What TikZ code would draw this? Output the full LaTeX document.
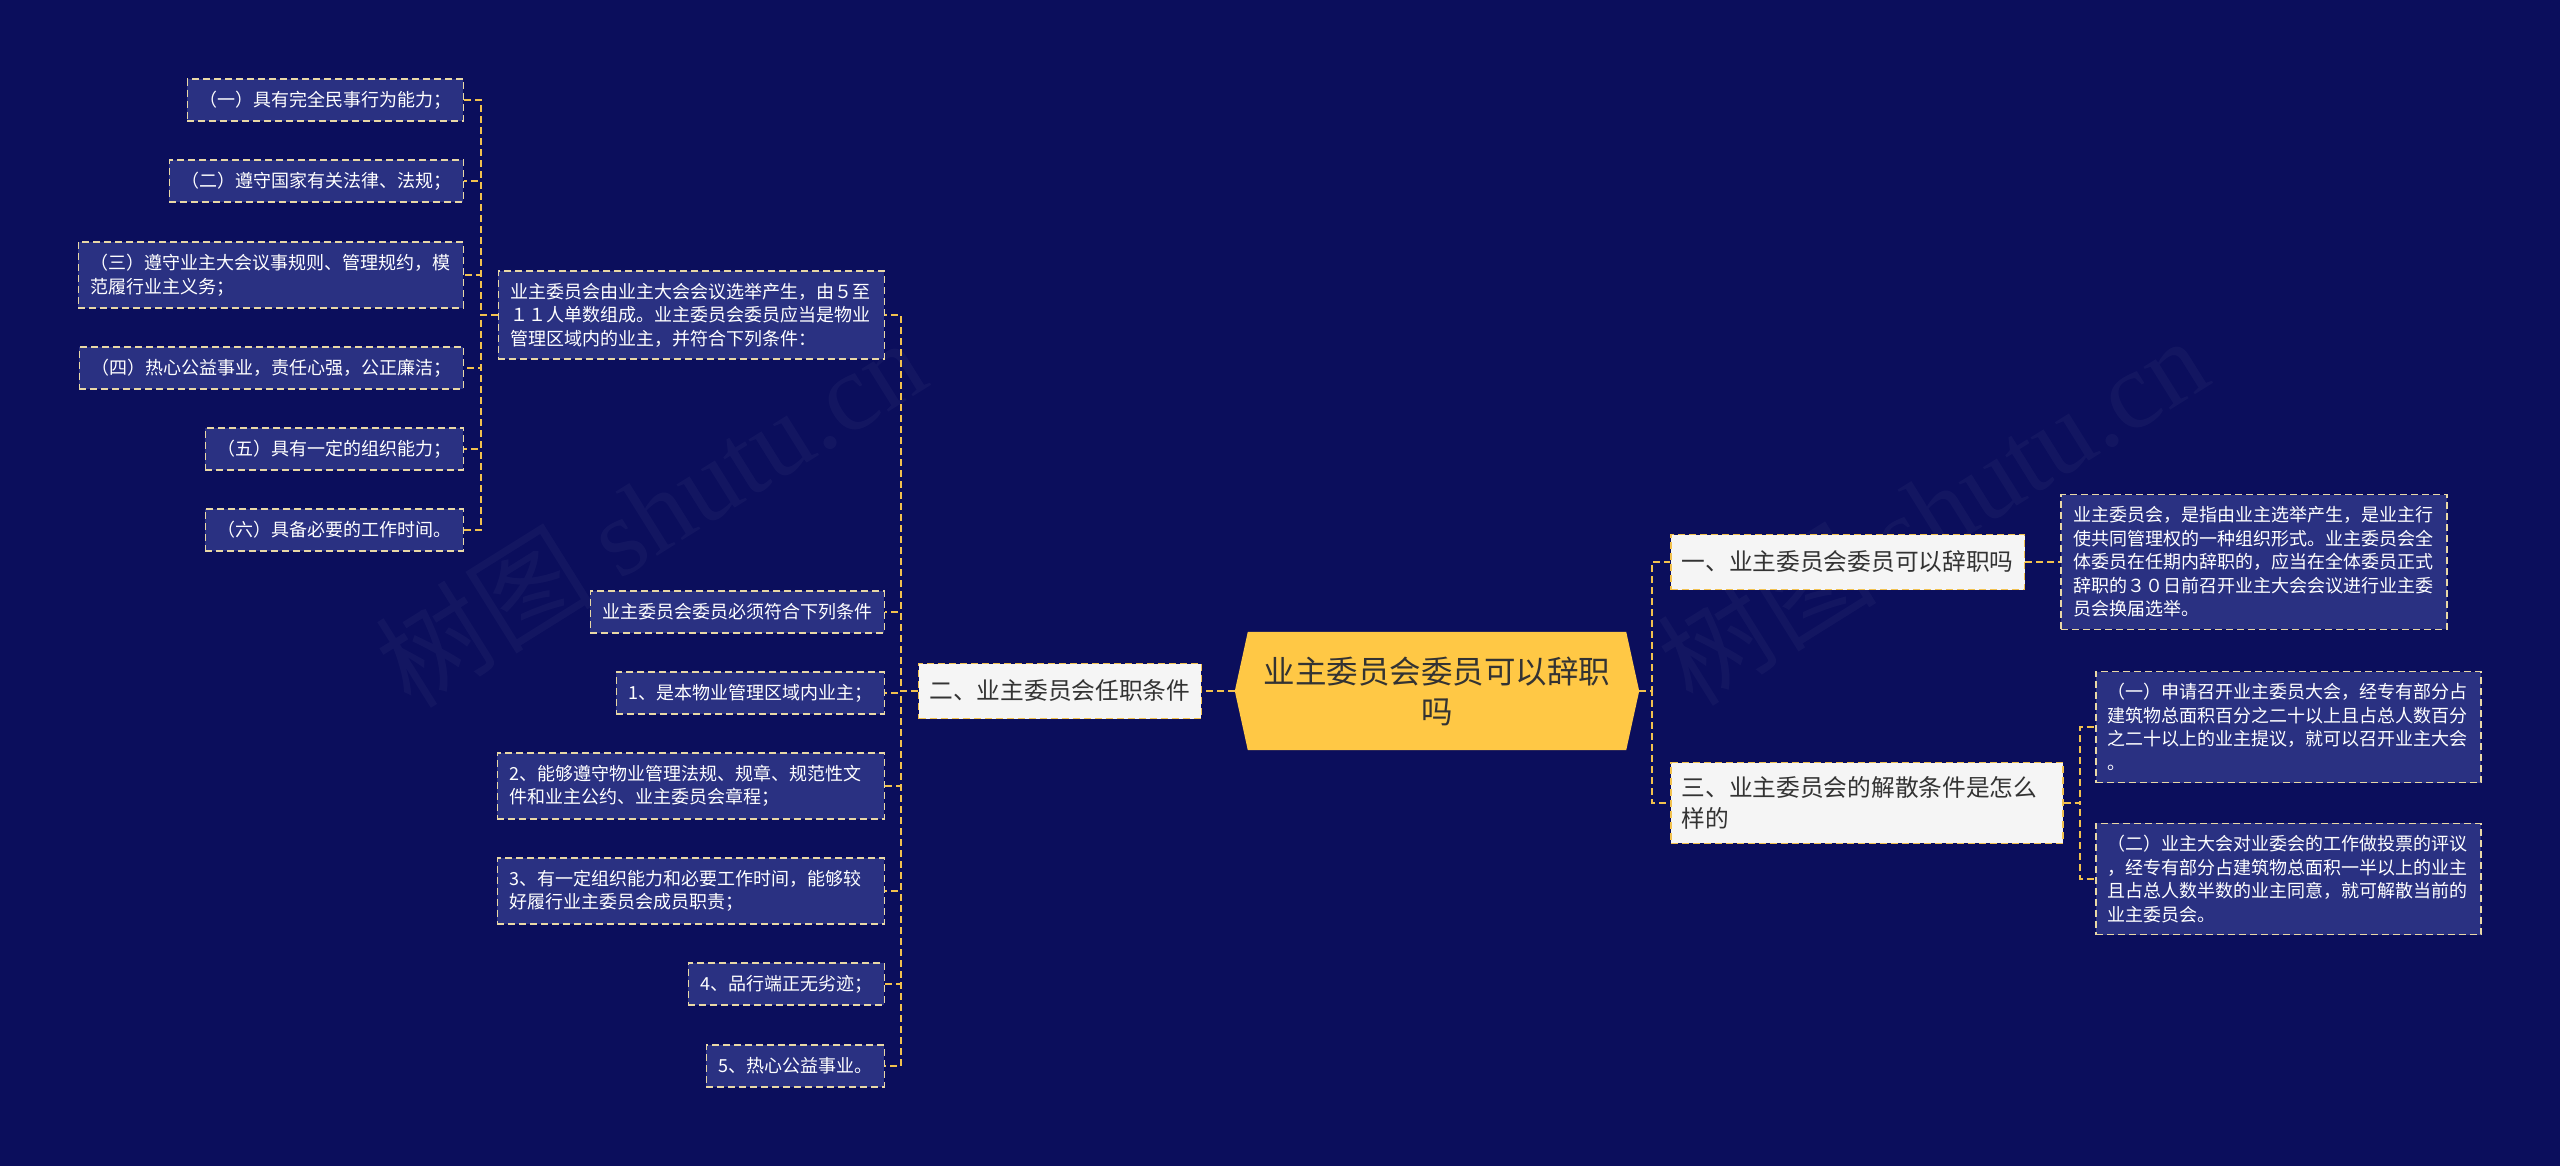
\documentclass[tikz,border=0pt]{standalone}
\usepackage{fontspec}
\setmainfont{Noto Sans CJK SC}
\newfontfamily\wmfont{Liberation Serif}
\usetikzlibrary{positioning, backgrounds}
\definecolor{bgcol}{HTML}{0B0E5C}
\definecolor{leafcol}{HTML}{2A3182}
\definecolor{leafline}{HTML}{E9D8A6}
\definecolor{rootcol}{HTML}{FFC845}
\definecolor{branchcol}{HTML}{F5F5F5}
\definecolor{linkcol}{HTML}{F2C14E}
\definecolor{textgray}{HTML}{333333}
\tikzset{
    rootnode/.style={minimum width=404pt, minimum height=118pt, inner sep=0pt, align=center, text=textgray, font=\fontsize{31.5}{40}\selectfont},
    branch/.style={rectangle, draw=linkcol, dash pattern=on 7pt off 4pt, line width=1.5pt, fill=branchcol, text=textgray, align=left, inner xsep=11pt, inner ysep=14pt, minimum height=55pt, font=\fontsize{23.7}{31}\selectfont},
    leaf/.style={rectangle, draw=leafline, dash pattern=on 7pt off 4pt, line width=1.5pt, fill=leafcol, text=white, align=left, inner xsep=12pt, inner ysep=12pt, minimum height=42pt, font=\fontsize{18}{23.5}\selectfont},
    link/.style={draw=linkcol, line width=2pt, dash pattern=on 7pt off 4pt},
    watermark/.style={text=white, opacity=0.035, rotate=32, font=\fontsize{110}{110}\selectfont}
}

\begin{document}
\begin{tikzpicture}[x=1pt, y=-1pt]
        \useasboundingbox (0,0) rectangle (2560,1166);

        % root
        \node (root) [rootnode] at (1437,691) {业主委员会委员可以辞职\\吗};

        % right side
        \node (b1) [branch, anchor=west] at (1670,562) {一、业主委员会委员可以辞职吗};
        \node (b1a) [leaf, right=35pt of b1, text width=362pt] {业主委员会，是指由业主选举产生，是业主行\\使共同管理权的一种组织形式。业主委员会全\\体委员在任期内辞职的，应当在全体委员正式\\辞职的３０日前召开业主大会会议进行业主委\\员会换届选举。};
        \node (b3) [branch, anchor=west, text width=370pt] at (1670,803) {三、业主委员会的解散条件是怎么\\样的};
        \node (b3a) [leaf, anchor=west, text width=361pt] at (2095,727) {（一）申请召开业主委员大会，经专有部分占\\建筑物总面积百分之二十以上且占总人数百分\\之二十以上的业主提议，就可以召开业主大会\\。};
        \node (b3b) [leaf, anchor=west, text width=361pt] at (2095,879) {（二）业主大会对业委会的工作做投票的评议\\，经专有部分占建筑物总面积一半以上的业主\\且占总人数半数的业主同意，就可解散当前的\\业主委员会。};

        % left side
        \node (b2) [branch, anchor=east] at (1202,691) {二、业主委员会任职条件};
        \node (c0) [leaf, anchor=east, text width=362pt] at (885,315) {业主委员会由业主大会会议选举产生，由５至\\１１人单数组成。业主委员会委员应当是物业\\管理区域内的业主，并符合下列条件：};
        \node (c1) [leaf, anchor=east] at (885,612) {业主委员会委员必须符合下列条件};
        \node (c2) [leaf, anchor=east] at (885,693) {1、是本物业管理区域内业主；};
        \node (c3) [leaf, anchor=east, text width=363pt] at (885,786) {2、能够遵守物业管理法规、规章、规范性文\\件和业主公约、业主委员会章程；};
        \node (c4) [leaf, anchor=east, text width=363pt] at (885,891) {3、有一定组织能力和必要工作时间，能够较\\好履行业主委员会成员职责；};
        \node (c5) [leaf, anchor=east] at (885,984) {4、品行端正无劣迹；};
        \node (c6) [leaf, anchor=east] at (885,1066) {5、热心公益事业。};

        \node (g1) [leaf, anchor=east] at (464,100) {（一）具有完全民事行为能力；};
        \node (g2) [leaf, anchor=east] at (464,181) {（二）遵守国家有关法律、法规；};
        \node (g3) [leaf, anchor=east, text width=361pt] at (464,275) {（三）遵守业主大会议事规则、管理规约，模\\范履行业主义务；};
        \node (g4) [leaf, anchor=east] at (464,368) {（四）热心公益事业，责任心强，公正廉洁；};
        \node (g5) [leaf, anchor=east] at (464,449) {（五）具有一定的组织能力；};
        \node (g6) [leaf, anchor=east] at (464,530) {（六）具备必要的工作时间。};

        % background, root shape, watermarks
        \begin{scope}[on background layer]
            \fill [bgcol] (0,0) rectangle (2560,1166);
            \node (wm1) [watermark] at (650,512) {树图 {\wmfont shutu.cn}};
            \node (wm2) [watermark] at (1932,510) {树图 {\wmfont shutu.cn}};
            \fill [rootcol] ([xshift=13pt]root.north west) -- ([xshift=-13pt]root.north east) -- (root.east) -- ([xshift=-13pt]root.south east) -- ([xshift=13pt]root.south west) -- (root.west) -- cycle;
        \end{scope}

        % connectors
        \draw [link] (root.east) -- ++(13,0) |- (b1.west);
        \draw [link] (root.east) -- ++(13,0) |- (b3.west);
        \draw [link] (b1.east) -- (b1a.west);
        \draw [link] (b3.east) -- ++(16,0) |- (b3a.west);
        \draw [link] (b3.east) -- ++(16,0) |- (b3b.west);
        \draw [link] (root.west) -- (b2.east);
        \foreach \c in {c0,c1,c2,c3,c4,c5,c6}
            \draw [link] (b2.west) -- ++(-17,0) |- (\c.east);
        \foreach \g in {g1,g2,g3,g4,g5,g6}
            \draw [link] (c0.west) -- ++(-17,0) |- (\g.east);
    \end{tikzpicture}
\end{document}
